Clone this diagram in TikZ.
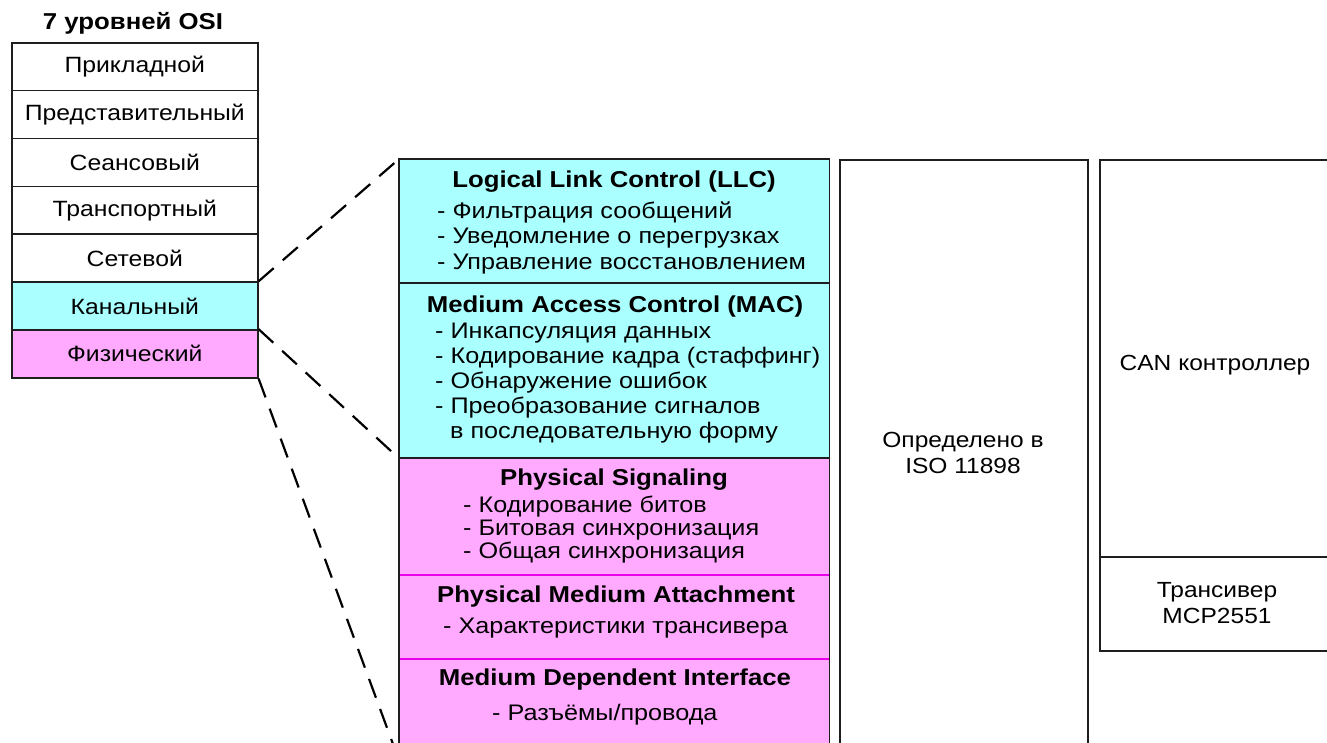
\documentclass[tikz,border=0pt]{standalone}
\usepackage{fontspec}
\setmainfont{Liberation Sans}[FakeStretch=1.12]
\definecolor{llccyan}{RGB}{170,255,255}
\definecolor{phypink}{RGB}{255,170,255}
\definecolor{divmag}{RGB}{235,0,235}
\definecolor{edge}{RGB}{30,30,30}
\begin{document}
\begin{tikzpicture}[x=1pt,y=-1pt,
  txt/.style={font=\fontsize{22.5}{25}\selectfont, inner sep=0pt},
  sidetxt/.style={font=\fontsize{21.9}{25}\selectfont, inner sep=0pt},
  ttl/.style={font=\bfseries\fontsize{23}{25}\selectfont, inner sep=0pt},
  osirow/.style={draw=edge, line width=1.6pt, minimum width=246pt,
    minimum height=47.857pt, inner sep=0pt, anchor=north west,
    font=\fontsize{22.1}{25}\selectfont},
  block/.style={draw=none, minimum width=430pt, inner sep=0pt, anchor=north west},
  sidebox/.style={draw=edge, line width=1.6pt, inner sep=0pt, anchor=north west},
  zoomline/.style={draw=black, line width=2.2pt, dash pattern=on 20pt off 12pt}]
\clip (0,0) rectangle (1327,742);
\fill[white] (0,0) rectangle (1327,742);

% OSI reference stack
\node[ttl, anchor=base] (osititle) at (133,29.5) {7 уровней OSI};
\foreach \lab/\fil [count=\i] in {Прикладной/white, Представительный/white,
    Сеансовый/white, Транспортный/white, Сетевой/white,
    Канальный/llccyan, Физический/phypink}
  \node[osirow, fill=\fil] (osi\i) at (11,{42+(\i-1)*47.857}) {\lab};

% CAN sublayers
\node[block, fill=llccyan, minimum height=124pt] (llc) at (399,159) {};
\node[block, fill=llccyan, minimum height=175pt] (mac) at (399,283) {};
\node[block, fill=phypink, minimum height=117pt] (ps) at (399,458) {};
\node[block, fill=phypink, minimum height=84pt] (pma) at (399,575) {};
\node[block, fill=phypink, minimum height=101pt] (mdi) at (399,659) {};
\draw[divmag, line width=1.4pt] (pma.north west) -- (pma.north east);
\draw[divmag, line width=1.4pt] (mdi.north west) -- (mdi.north east);
\draw[edge, line width=1.4pt] (mac.north west) -- (mac.north east);
\draw[edge, line width=1.4pt] (ps.north west) -- (ps.north east);
\draw[edge, line width=1.6pt] (llc.north west) rectangle (mdi.south east);

% LLC
\node[ttl, anchor=base] (llct) at (614,187) {Logical Link Control (LLC)};
\foreach \s [count=\i] in {- Фильтрация сообщений, - Уведомление о перегрузках,
    - Управление восстановлением}
  \node[txt, anchor=base west] (llc\i) at (437,{218+(\i-1)*25.5}) {\s};

% MAC
\node[ttl, anchor=base] (mact) at (615,312) {Medium Access Control (MAC)};
\foreach \s [count=\i] in {- Инкапсуляция данных, - Кодирование кадра (стаффинг),
    - Обнаружение ошибок, - Преобразование сигналов}
  \node[txt, anchor=base west] (mac\i) at (435,{338+(\i-1)*25}) {\s};
\node[txt, anchor=base west] (mac5) at (450,438) {в последовательную форму};

% Physical Signaling
\node[ttl, anchor=base] (pst) at (614,485) {Physical Signaling};
\foreach \s [count=\i] in {- Кодирование битов, - Битовая синхронизация,
    - Общая синхронизация}
  \node[txt, anchor=base west] (ps\i) at (463,{512+(\i-1)*23.2}) {\s};

% Physical Medium Attachment
\node[ttl, anchor=base] (pmat) at (616,602) {Physical Medium Attachment};
\node[txt, anchor=base west] (pma1) at (443,633) {- Характеристики трансивера};

% Medium Dependent Interface
\node[ttl, anchor=base] (mdit) at (615,685) {Medium Dependent Interface};
\node[txt, anchor=base west] (mdi1) at (492,720) {- Разъёмы/провода};

% Standard and hardware columns
\node[sidebox, minimum width=248pt, minimum height=601pt] (iso) at (839,159) {};
\node[sidetxt, anchor=base] (iso1) at (963,447) {Определено в};
\node[sidetxt, anchor=base] (iso2) at (963,473) {ISO 11898};
\node[sidebox, minimum width=232pt, minimum height=397pt] (can) at (1099,159) {};
\node[sidetxt, anchor=base] (cant) at (1215,370) {CAN контроллер};
\node[sidebox, minimum width=232pt, minimum height=94pt] (trx) at (1099,556) {};
\node[sidetxt, anchor=base] (trx1) at (1217,597) {Трансивер};
\node[sidetxt, anchor=base] (trx2) at (1217,623) {MCP2551};

% Zoom connectors
\draw[zoomline] (osi6.north east) -- (llc.north west);
\draw[zoomline] (osi7.north east) -- (mac.south west);
\draw[zoomline] (osi7.south east) -- (mdi.south west);
\end{tikzpicture}
\end{document}
